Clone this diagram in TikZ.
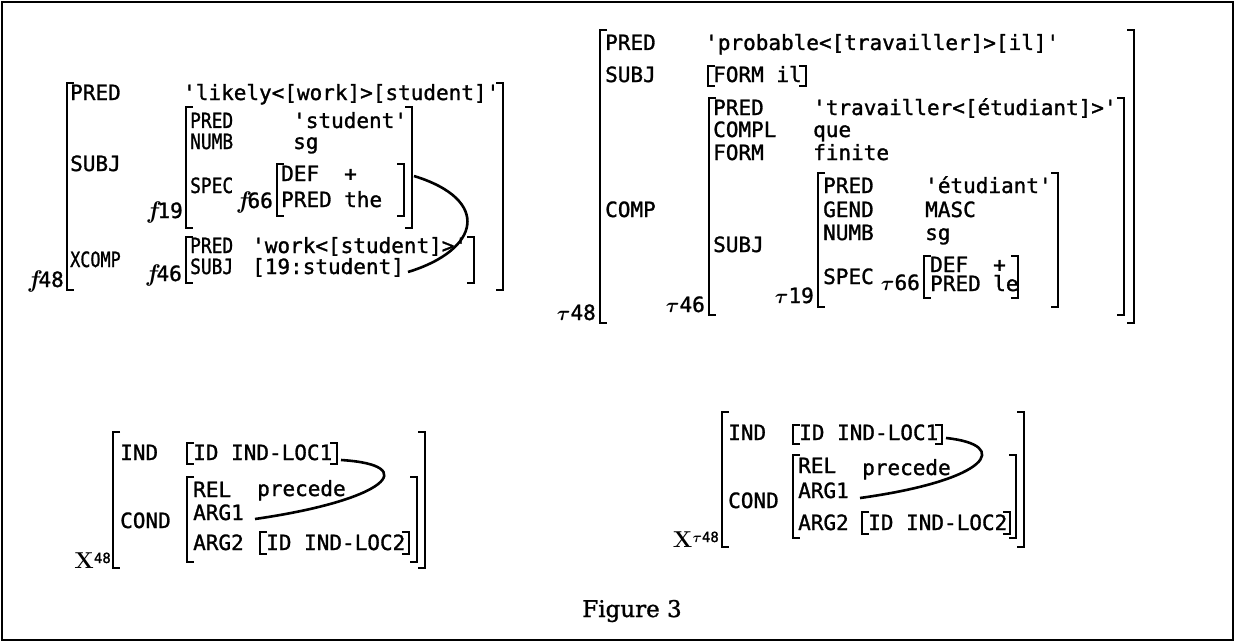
\documentclass[tikz,border=0pt]{standalone}
\usepackage{fontspec}
\usepackage{amsmath,bm}
\newfontfamily\mono[FakeBold=1.3]{DejaVu Sans Mono}
\newfontfamily\capfont[FakeBold=1.2]{DejaVu Serif}
\newcommand\mysz{\fontsize{21}{25}\selectfont}
\newcommand\sq{\textquotesingle}
\newcommand\nar[1]{\scalebox{0.85}[1]{#1}}
\newcommand\brL[3]{\draw[brk] (#1+7,#2) -- (#1,#2) -- (#1,#3) -- (#1+7,#3);}
\newcommand\brR[3]{\draw[brk] (#1-7,#2) -- (#1,#2) -- (#1,#3) -- (#1-7,#3);}
\newcommand\flbl{{\rmfamily\bfseries\itshape\fontsize{24}{28}\selectfont f}}
\newcommand\taulbl{$\boldsymbol{\tau}$}
\newcommand\chilbl{{\rmfamily\bfseries\fontsize{23}{26}\selectfont X}}
\begin{document}
\begin{tikzpicture}[x=1pt,y=-1pt,
  t/.style={anchor=base west,inner sep=0pt,font=\mono\mysz},
  te/.style={anchor=base east,inner sep=0pt,font=\mono\mysz},
  brk/.style={line width=2.8pt},
  link/.style={line width=2.6pt}]
\useasboundingbox (0,0) rectangle (1235,642);
\draw[line width=2.5pt] (2,2) rectangle (1233,640);

% ---------------- top left: f48 ----------------
\brL{67}{83}{290} \brR{503}{83}{290}
\node[te] (f48) at (64,287) {\flbl 48};
\node[t] (a1) at (70,100) {PRED};
\node[t] (a2) at (183,100) {\sq likely<[work]>[student]\sq};
\node[t] (a3) at (70,171) {SUBJ};
\brL{186}{107}{228} \brR{412}{107}{228}
\node[te] (f19) at (183,218) {\flbl 19};
\node[t] (b1) at (190,128) {\nar{PRED}};
\node[t] (b2) at (293,128) {\sq student\sq};
\node[t] (b3) at (190,149) {\nar{NUMB}};
\node[t] (b4) at (293,149) {sg};
\node[t] (b5) at (190,193) {\nar{SPEC}};
\brL{277}{164}{216} \brR{404}{164}{216}
\node[te] (f66) at (273,208) {\flbl 66};
\node[t] (c1) at (281,181) {DEF};
\node[t] (c2) at (344,181) {+};
\node[t] (c3) at (281,207) {PRED};
\node[t] (c4) at (344,207) {the};
\node[t] (a4) at (70,267) {\scalebox{0.8}[1]{XCOMP}};
\brL{186}{237}{283} \brR{474}{237}{283}
\node[te] (f46) at (182,281) {\flbl 46};
\node[t] (d1) at (190,253) {\nar{PRED}};
\node[t] (d2) at (252,253) {\sq work<[student]>\sq};
\node[t] (d3) at (190,274) {\nar{SUBJ}};
\node[t] (d4) at (252,274) {[19:student]};
\coordinate (lkA) at (414,176);
\coordinate (lkB) at (408,272);
\draw[link] (lkA) .. controls (492,200) and (480,250) .. (lkB);

% ---------------- top right: tau48 ----------------
\brL{600}{30}{323} \brR{1134}{30}{323}
\node[te] (t48) at (596,320) {\taulbl 48};
\node[t] (e1) at (605,50) {PRED};
\node[t] (e2) at (705,50) {\sq probable<[travailler]>[il]\sq};
\node[t] (e3) at (605,82) {SUBJ};
\brL{708}{66}{86} \brR{806}{66}{86}
\node[t] (e4) at (713,82) {FORM il};
\node[t] (e5) at (605,217) {COMP};
\brL{709}{98}{315} \brR{1124}{98}{315}
\node[te] (t46) at (705,312) {\taulbl 46};
\node[t] (g1) at (713,115) {PRED};
\node[t] (g2) at (813,115) {\sq travailler<[étudiant]>\sq};
\node[t] (g3) at (713,137) {COMPL};
\node[t] (g4) at (813,137) {que};
\node[t] (g5) at (713,160) {FORM};
\node[t] (g6) at (813,160) {finite};
\node[t] (g7) at (713,252) {SUBJ};
\brL{818}{173}{307} \brR{1058}{173}{307}
\node[te] (t19) at (814,303) {\taulbl 19};
\node[t] (h1) at (823,193) {PRED};
\node[t] (h2) at (925,193) {\sq étudiant\sq};
\node[t] (h3) at (823,217) {GEND};
\node[t] (h4) at (925,217) {MASC};
\node[t] (h5) at (823,240) {NUMB};
\node[t] (h6) at (925,240) {sg};
\node[t] (h7) at (823,284) {SPEC};
\brL{924}{256}{298} \brR{1018}{256}{298}
\node[te] (t66) at (920,290) {\taulbl 66};
\node[t] (k1) at (930,272) {DEF};
\node[t] (k2) at (993,272) {+};
\node[t] (k3) at (930,291) {PRED};
\node[t] (k4) at (993,291) {le};

% ---------------- bottom left: X48 ----------------
\brL{113}{432}{568} \brR{425}{432}{568}
\node[te] (x48) at (111,568) {\chilbl\raisebox{5pt}{\fontsize{14}{16}\selectfont 48}};
\node[t] (m1) at (120,460) {IND};
\brL{187}{443}{464} \brR{337}{443}{464}
\node[t] (m2) at (193,460) {ID IND-LOC1};
\node[t] (m3) at (120,528) {COND};
\brL{187}{477}{562} \brR{417}{477}{562}
\node[t] (n1) at (193,497) {REL};
\node[t] (n2) at (257,496) {precede};
\node[t] (n3) at (193,520) {ARG1};
\node[t] (n4) at (193,550) {ARG2};
\brL{260}{532}{554} \brR{409}{532}{554}
\node[t] (n5) at (266,550) {ID IND-LOC2};
\coordinate (lkC) at (341,460);
\coordinate (lkD) at (255,519);
\draw[link] (lkC) .. controls (422,465) and (387,500) .. (lkD);

% ---------------- bottom right: X tau48 ----------------
\brL{722}{412}{547} \brR{1024}{412}{547}
\node[te] (xt48) at (719,547) {\chilbl\raisebox{5pt}{\fontsize{14}{16}\selectfont\taulbl 48}};
\node[t] (p1) at (728,440) {IND};
\brL{793}{425}{444} \brR{942}{425}{444}
\node[t] (p2) at (799,440) {ID IND-LOC1};
\node[t] (p3) at (728,508) {COND};
\brL{793}{455}{538} \brR{1016}{455}{538}
\node[t] (q1) at (798,473) {REL};
\node[t] (q2) at (862,475) {precede};
\node[t] (q3) at (798,498) {ARG1};
\node[t] (q4) at (798,530) {ARG2};
\brL{862}{512}{534} \brR{1010}{512}{534}
\node[t] (q5) at (868,530) {ID IND-LOC2};
\coordinate (lkE) at (946,438);
\coordinate (lkF) at (860,498);
\draw[link] (lkE) .. controls (1012,445) and (990,480) .. (lkF);

% caption
\node[anchor=base,inner sep=0pt,font=\capfont\fontsize{23}{27}\selectfont] (cap) at (632,617) {Figure 3};
\end{tikzpicture}
\end{document}
